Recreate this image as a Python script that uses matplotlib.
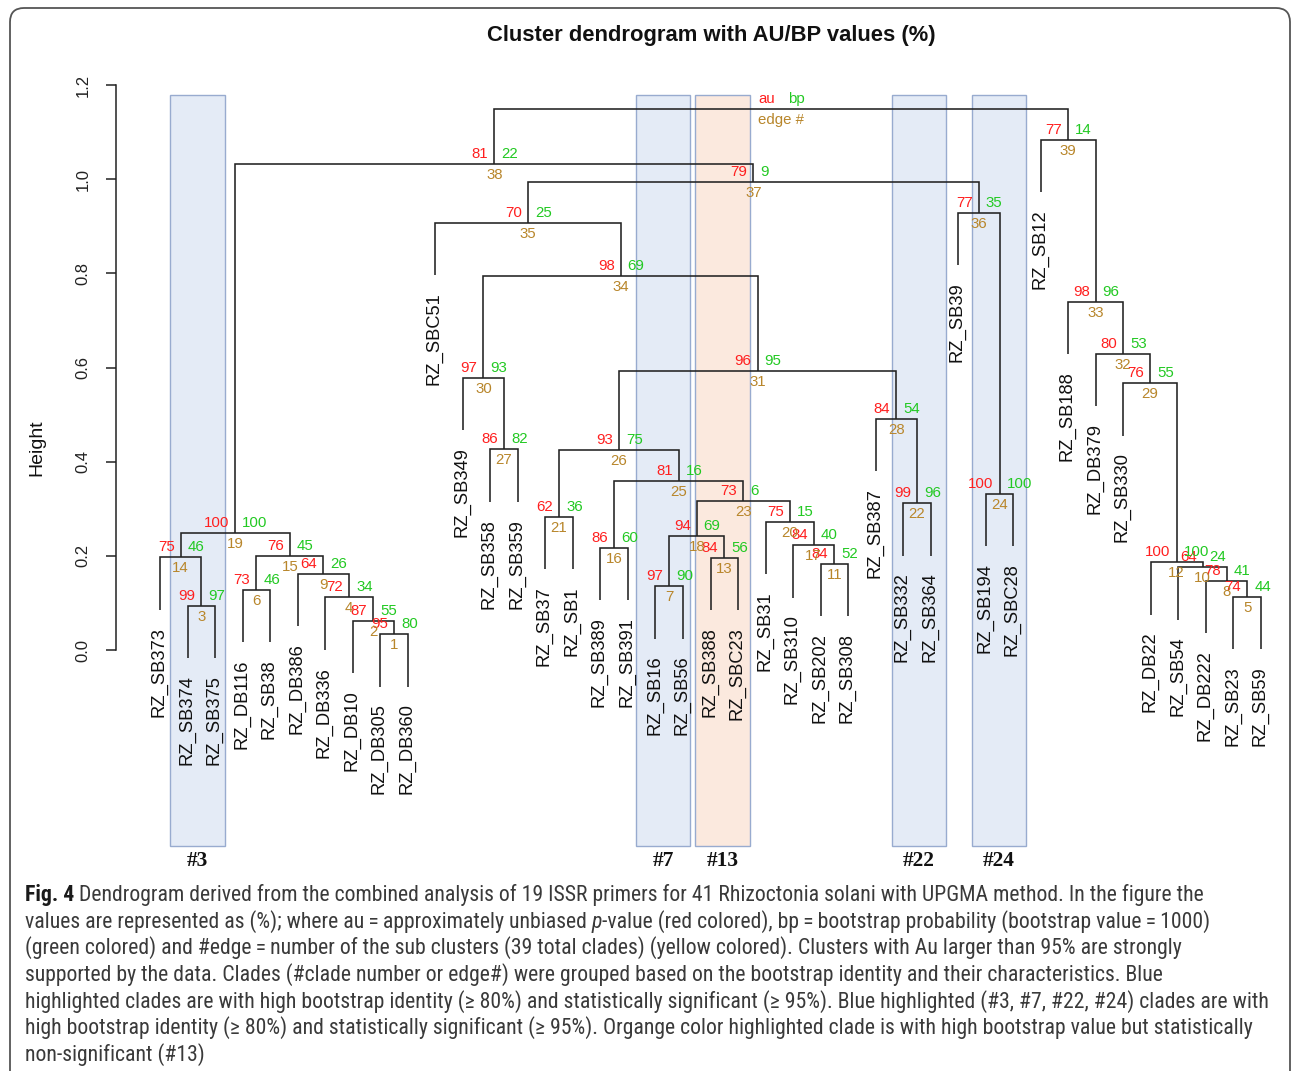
import matplotlib
matplotlib.use("Agg")
import matplotlib.pyplot as plt
from matplotlib.patches import Rectangle, FancyBboxPatch
from matplotlib import font_manager as fm

plt.rcParams['font.family'] = ['Liberation Sans', 'DejaVu Sans']

# ---------------- data ----------------
labels = ["RZ_SB373", "RZ_SB374", "RZ_SB375", "RZ_DB116", "RZ_SB38", "RZ_DB386", "RZ_DB336", "RZ_DB10",
          "RZ_DB305", "RZ_DB360", "RZ_SBC51", "RZ_SB349", "RZ_SB358", "RZ_SB359", "RZ_SB37", "RZ_SB1",
          "RZ_SB389", "RZ_SB391", "RZ_SB16", "RZ_SB56", "RZ_SB388", "RZ_SBC23", "RZ_SB31", "RZ_SB310",
          "RZ_SB202", "RZ_SB308", "RZ_SB387", "RZ_SB332", "RZ_SB364", "RZ_SB39", "RZ_SB194", "RZ_SBC28",
          "RZ_SB12", "RZ_SB188", "RZ_DB379", "RZ_SB330", "RZ_DB22", "RZ_SB54", "RZ_DB222", "RZ_SB23",
          "RZ_SB59"]

# merge k (edge k+1): children are leaf names (str) or earlier edge numbers (int)
left_child = ["RZ_DB305", "RZ_DB10", "RZ_SB374", "RZ_DB336", "RZ_SB23", "RZ_DB116", "RZ_SB16", "RZ_DB222",
              "RZ_DB386", "RZ_SB54", "RZ_SB202", "RZ_DB22", "RZ_SB388", "RZ_SB373", 6, "RZ_SB389",
              "RZ_SB310", 7, 14, "RZ_SB31", "RZ_SB37", "RZ_SB332", 18, "RZ_SB194", 16, 21, "RZ_SB358",
              "RZ_SB387", "RZ_SB330", "RZ_SB349", 26, "RZ_DB379", "RZ_SB188", 30, "RZ_SBC51", "RZ_SB39",
              35, 19, "RZ_SB12", 38]
right_child = ["RZ_DB360", 1, "RZ_SB375", 2, "RZ_SB59", "RZ_SB38", "RZ_SB56", 5, 4, 8,
               "RZ_SB308", 10, "RZ_SBC23", 3, 9, "RZ_SB391", 11, 13, 15, 17,
               "RZ_SB1", "RZ_SB364", 20, "RZ_SBC28", 23, 25, "RZ_SB359", 22, 12, 27,
               28, 29, 32, 31, 34, 24, 36, 37, 33, 39]
heights = [0.034, 0.062, 0.094, 0.112, 0.113, 0.128, 0.136, 0.147, 0.162, 0.176,
           0.183, 0.187, 0.196, 0.197, 0.199, 0.217, 0.223, 0.242, 0.249, 0.272,
           0.283, 0.312, 0.317, 0.332, 0.359, 0.424, 0.426, 0.491, 0.567, 0.578,
           0.593, 0.629, 0.740, 0.795, 0.908, 0.929, 0.993, 1.033, 1.084, 1.150]
au = [95, 87, 99, 72, 74, 73, 97, 78, 64, 64, 84, 100, 84, 75, 76, 86, 84, 94, 100, 75,
      62, 99, 73, 100, 81, 93, 86, 84, 76, 97, 96, 80, 98, 98, 70, 77, 79, 81, 77]
bp = [80, 55, 97, 34, 44, 46, 90, 41, 26, 24, 52, 100, 56, 46, 45, 60, 40, 69, 100, 15,
      36, 96, 6, 100, 16, 75, 82, 54, 55, 93, 95, 53, 96, 69, 25, 35, 9, 22, 14]

highlight_names = ["#3", "#7", "#13", "#22", "#24"]
highlight_edges = [3, 7, 13, 22, 24]
highlight_kind = ["blue", "blue", "orange", "blue", "blue"]

title = "Cluster dendrogram with AU/BP values (%)"
yticks = [0.0, 0.2, 0.4, 0.6, 0.8, 1.0, 1.2]
ytick_labels = ["0.0", "0.2", "0.4", "0.6", "0.8", "1.0", "1.2"]

caption_lines = [
    [("Fig. 4", "bold"), (" Dendrogram derived from the combined analysis of 19 ISSR primers for 41 Rhizoctonia solani with UPGMA method. In the figure the", "normal")],
    [("values are represented as (%); where au\u2009=\u2009approximately unbiased ", "normal"), ("p", "italic"),
     ("-value (red colored), bp\u2009=\u2009bootstrap probability (bootstrap value\u2009=\u20091000)", "normal")],
    [("(green colored) and #edge\u2009=\u2009number of the sub clusters (39 total clades) (yellow colored). Clusters with Au larger than 95% are strongly", "normal")],
    [("supported by the data. Clades (#clade number or edge#) were grouped based on the bootstrap identity and their characteristics. Blue", "normal")],
    [("highlighted clades are with high bootstrap identity (\u2265 80%) and statistically significant (\u2265 95%). Blue highlighted (#3, #7, #22, #24) clades are with", "normal")],
    [("high bootstrap identity (\u2265 80%) and statistically significant (\u2265 95%). Organge color highlighted clade is with high bootstrap value but statistically", "normal")],
    [("non-significant (#13)", "normal")],
]

# ---------------- layout ----------------
W, H, DPI = 1292, 1071, 100
fig = plt.figure(figsize=(W / DPI, H / DPI), dpi=DPI)
fig.patch.set_facecolor("white")

PX_LEAF1, PX_STEP = 160.0, 27.525
PY0, PY_PER = 650.0, 470.8
AX_L, AX_R, AX_T, AX_B = 116, 1284, 50, 885
ax = fig.add_axes([AX_L / W, 1 - AX_B / H, (AX_R - AX_L) / W, (AX_B - AX_T) / H])
ax.set_xlim(1 + (AX_L - PX_LEAF1) / PX_STEP, 1 + (AX_R - PX_LEAF1) / PX_STEP)
ax.set_ylim((PY0 - AX_B) / PY_PER, (PY0 - AX_T) / PY_PER)
ax.patch.set_alpha(0)
for s in ["top", "right", "bottom"]:
    ax.spines[s].set_visible(False)
ax.spines["left"].set_bounds(0, 1.2)
ax.spines["left"].set_linewidth(1.1)
ax.spines["left"].set_color("#222222")
ax.set_xticks([])
ax.set_yticks(yticks)
ax.set_yticklabels(ytick_labels, rotation=90, va="center")
ax.tick_params(axis="y", length=7.5, width=1.1, pad=11, labelsize=12, colors="#222222")

COL_AU, COL_BP, COL_ED = "#ff1f1f", "#22c922", "#b8862b"
LINE_C = "#222222"
NUM_FS = 10.8

xpos = {name: i + 1 for i, name in enumerate(labels)}
hang = 0.1 * (max(heights) - min(heights))
node_x, node_h = {}, {}


def child_pos(c):
    if isinstance(c, str):
        return xpos[c], None
    return node_x[c], node_h[c]


n_edges = len(heights)
for k in range(n_edges):
    e = k + 1
    h = heights[k]
    xl, hl = child_pos(left_child[k])
    xr, hr = child_pos(right_child[k])
    bl = hl if hl is not None else h - hang
    br = hr if hr is not None else h - hang
    ax.plot([xl, xl, xr, xr], [bl, h, h, br], color=LINE_C, lw=1.15, solid_joinstyle="miter",
            solid_capstyle="butt", zorder=3)
    for c, xc in ((left_child[k], xl), (right_child[k], xr)):
        if isinstance(c, str):
            ax.annotate(c, (xc, h - hang), xytext=(-1, -17), textcoords="offset pixels",
                        rotation=90, ha="center", va="top", fontsize=13.2, color="#111111", zorder=4)
    xm = (xl + xr) / 2
    node_x[e], node_h[e] = xm, h
    if e <= len(au):
        t_au, t_bp, t_ed = str(au[k]), str(bp[k]), str(e)
    else:
        t_au, t_bp, t_ed = "au", "bp", "edge #"
    ax.annotate(t_au, (xm, h), xytext=(-6, 3), textcoords="offset pixels", ha="right", va="bottom",
                fontsize=NUM_FS, color=COL_AU, zorder=5)
    ax.annotate(t_bp, (xm, h), xytext=(7, 3), textcoords="offset pixels", ha="left", va="bottom",
                fontsize=NUM_FS, color=COL_BP, zorder=5)
    ax.annotate(t_ed, (xm, h), xytext=(0, -4), textcoords="offset pixels", ha="center", va="top",
                fontsize=NUM_FS, color=COL_ED, zorder=5)

# highlight boxes
box_shift = {"#3": -0.14, "#7": -0.22, "#13": -0.06, "#22": 0.08, "#24": -0.02}
box_top = (PY0 - 95) / PY_PER
box_bot = (PY0 - 846) / PY_PER
fills = {"blue": "#e4ebf6", "orange": "#fbe9de"}
for name, e, kind in zip(highlight_names, highlight_edges, highlight_kind):
    cx = node_x[e] + box_shift[name]
    ax.add_patch(Rectangle((cx - 0.99, box_bot), 1.98, box_top - box_bot, facecolor=fills[kind],
                           edgecolor="#98abcf", lw=1.0, zorder=1))
    ax.annotate(name, (cx, box_bot), xytext=(0, -5), textcoords="offset pixels", ha="center", va="top",
                fontsize=15.5, fontweight="bold", family=["Liberation Serif", "DejaVu Serif"],
                color="#111111")

# title & y label
fig.text(711 / W, 1 - 36 / H, title, ha="center", va="center", fontsize=15.8, fontweight="bold",
         color="#111111")
fig.text(37 / W, 1 - 448 / H, "Height", rotation=90, ha="center", va="center", fontsize=14,
         color="#111111")

# border
fig.patches.append(FancyBboxPatch((10, -40), 1280, 1063 - (-40), boxstyle="round,pad=0,rounding_size=14",
                                  transform=None, facecolor="none", edgecolor="#555555", lw=1.3))


# caption
def has_font(name):
    try:
        fm.findfont(fm.FontProperties(family=name), fallback_to_default=False)
        return True
    except Exception:
        return False


cap_family = "DejaVu Sans"
for cand in ["Liberation Sans Narrow", "Roboto Condensed", "Open Sans Condensed", "Noto Sans", "Liberation Sans"]:
    if has_font(cand):
        cap_family = cand
        break

renderer = fig.canvas.get_renderer()


def seg_width(txt, style, fs):
    kw = dict(fontsize=fs, family=[cap_family, "DejaVu Sans"])
    if style == "bold":
        kw["fontweight"] = "bold"
    if style == "italic":
        kw["fontstyle"] = "italic"
    t1 = fig.text(0, 0, "x" + txt + "x", **kw)
    t2 = fig.text(0, 0, "xx", **kw)
    w = t1.get_window_extent(renderer).width - t2.get_window_extent(renderer).width
    t1.remove(); t2.remove()
    return w


base_fs = 14.0
target = 1272 - 25
w5 = sum(seg_width(t, s, base_fs) for t, s in caption_lines[4])
cap_fs = base_fs * target / w5

for i, line in enumerate(caption_lines):
    xpix = 25.0
    ybase = 901 + 26.65 * i
    for txt, style in line:
        kw = dict(fontsize=cap_fs, family=[cap_family, "DejaVu Sans"], ha="left", va="baseline",
                  color="#3a3a3a")
        if style == "bold":
            kw["fontweight"] = "bold"
            kw["color"] = "#1a1a1a"
        if style == "italic":
            kw["fontstyle"] = "italic"
        fig.text(xpix / W, 1 - ybase / H, txt, **kw)
        xpix += seg_width(txt, style, cap_fs)

fig.savefig("out.png", dpi=DPI)
